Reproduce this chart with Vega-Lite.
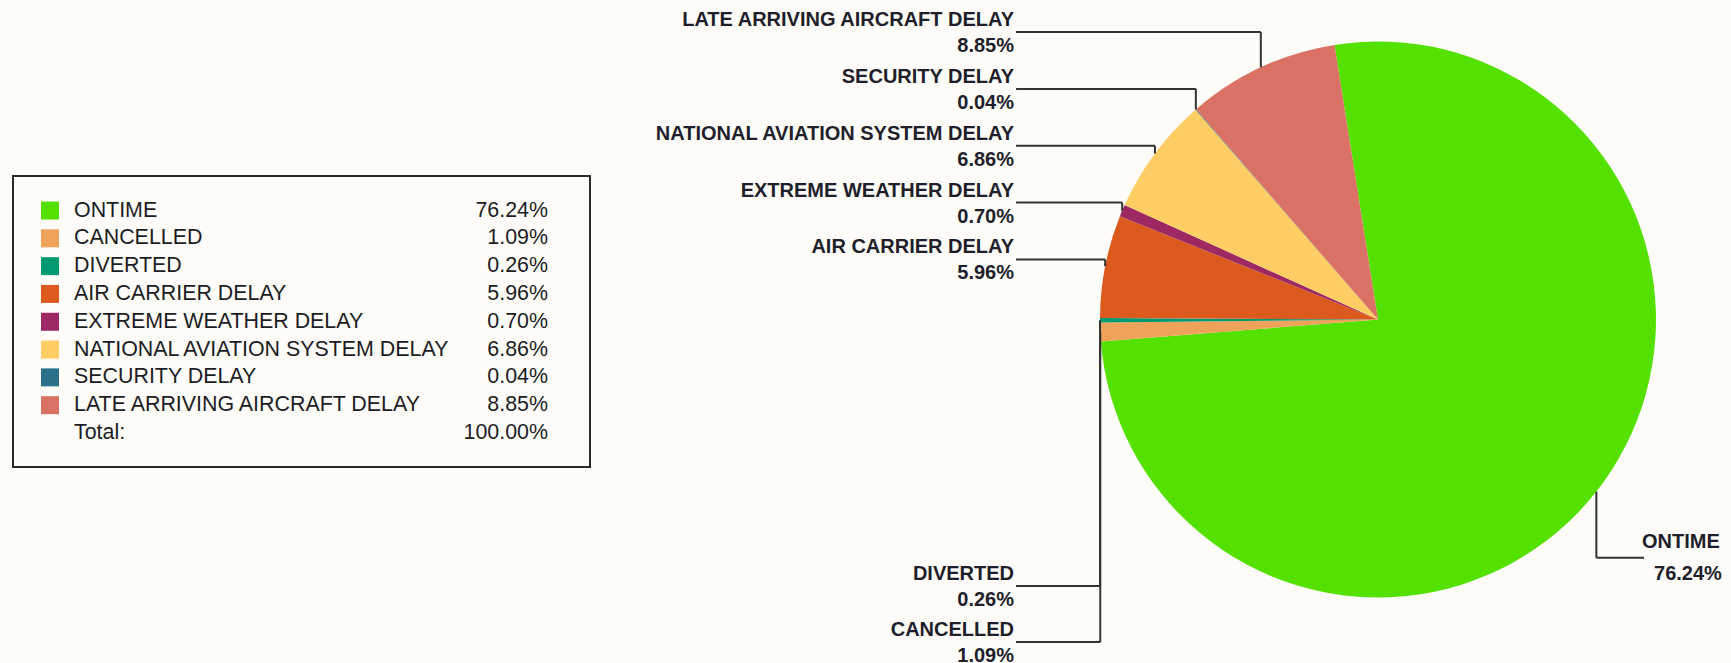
{
  "$schema": "https://vega.github.io/schema/vega-lite/v6.json",
  "background": "#fdfcf8",
  "padding": {"left": 12, "top": 0, "right": 0, "bottom": 0},
  "spacing": 0,
  "datasets": {
    "slices": [
      {"category": "ONTIME", "pct": 76.24, "order": 1},
      {"category": "CANCELLED", "pct": 1.09, "order": 2},
      {"category": "DIVERTED", "pct": 0.26, "order": 3},
      {"category": "AIR CARRIER DELAY", "pct": 5.96, "order": 4},
      {"category": "EXTREME WEATHER DELAY", "pct": 0.70, "order": 5},
      {"category": "NATIONAL AVIATION SYSTEM DELAY", "pct": 6.86, "order": 6},
      {"category": "SECURITY DELAY", "pct": 0.04, "order": 7},
      {"category": "LATE ARRIVING AIRCRAFT DELAY", "pct": 8.85, "order": 8}
    ]
  },
  "hconcat": [
    {
      "spacing": 0,
      "vconcat": [
        {"width": 577, "height": 175, "data": {"values": []}, "mark": "point"},
        {
          "width": 577,
          "height": 291,
          "view": {"stroke": "#2a2a2a", "strokeWidth": 2},
          "data": {"name": "slices"},
          "transform": [{"calculate": "format(datum.pct, '.2f') + '%'", "as": "pctLabel"}],
          "encoding": {
            "y": {
              "field": "category",
              "type": "nominal",
              "scale": {
                "type": "point",
                "domain": ["ONTIME", "CANCELLED", "DIVERTED", "AIR CARRIER DELAY", "EXTREME WEATHER DELAY", "NATIONAL AVIATION SYSTEM DELAY", "SECURITY DELAY", "LATE ARRIVING AIRCRAFT DELAY", "Total:"],
                "range": [34.5, 257],
                "padding": 0
              }
            }
          },
          "layer": [
            {
              "mark": {"type": "square", "size": 324, "filled": true, "opacity": 1},
              "encoding": {
                "x": {"datum": 37, "type": "quantitative", "scale": {"domain": [0, 577], "nice": false, "zero": false}},
                "color": {
                  "field": "category",
                  "type": "nominal",
                  "scale": {
                    "domain": ["ONTIME", "CANCELLED", "DIVERTED", "AIR CARRIER DELAY", "EXTREME WEATHER DELAY", "NATIONAL AVIATION SYSTEM DELAY", "SECURITY DELAY", "LATE ARRIVING AIRCRAFT DELAY"],
                    "range": ["#55e100", "#efa25a", "#009a73", "#dd5a1f", "#9d2862", "#fece64", "#2b7189", "#d97264"]
                  }
                }
              }
            },
            {
              "mark": {"type": "text", "align": "left", "baseline": "middle", "font": "Liberation Sans", "fontSize": 21.4, "color": "#1c1c24"},
              "encoding": {
                "x": {"datum": 61, "type": "quantitative"},
                "text": {"field": "category"}
              }
            },
            {
              "mark": {"type": "text", "align": "right", "baseline": "middle", "font": "Liberation Sans", "fontSize": 21.4, "color": "#1c1c24"},
              "encoding": {
                "x": {"datum": 535, "type": "quantitative"},
                "text": {"field": "pctLabel"}
              }
            },
            {
              "transform": [
                {"aggregate": [{"op": "sum", "field": "pct", "as": "total"}]},
                {"calculate": "format(datum.total, '.2f') + '%'", "as": "totalLabel"}
              ],
              "layer": [
                {
                  "mark": {"type": "text", "align": "left", "baseline": "middle", "font": "Liberation Sans", "fontSize": 21.4, "color": "#1c1c24", "text": "Total:"},
                  "encoding": {
                    "x": {"datum": 61, "type": "quantitative"},
                    "y": {"datum": "Total:", "type": "nominal"}
                  }
                },
                {
                  "mark": {"type": "text", "align": "right", "baseline": "middle", "font": "Liberation Sans", "fontSize": 21.4, "color": "#1c1c24"},
                  "encoding": {
                    "x": {"datum": 535, "type": "quantitative"},
                    "y": {"datum": "Total:", "type": "nominal"},
                    "text": {"field": "totalLabel"}
                  }
                }
              ]
            }
          ]
        }
      ]
    },
    {
      "width": 1142,
      "height": 663,
      "data": {"name": "slices"},
      "transform": [
        {"window": [{"op": "sum", "field": "pct", "as": "cum"}], "sort": [{"field": "order"}]},
        {"calculate": "-PI/20 + 2*PI*(datum.cum - datum.pct/2)/100", "as": "mid"},
        {"calculate": "sin(datum.mid)", "as": "ex"},
        {"calculate": "cos(datum.mid)", "as": "ey"},
        {"calculate": "datum.category == 'ONTIME' ? 0.957 : -1.302", "as": "lx"},
        {"calculate": "datum.order >= 4 ? 1.034 - 0.2045*(8 - datum.order) : (datum.order >= 2 ? -0.959 - 0.201*(3 - datum.order) : -0.857)", "as": "ly"},
        {"calculate": "format(datum.pct, '.2f') + '%'", "as": "pctLabel"}
      ],
      "layer": [
        {
          "mark": {"type": "arc", "outerRadius": 278},
          "encoding": {
            "x": {"datum": 0, "type": "quantitative", "scale": {"domain": [-2.8309, 1.277], "nice": false, "zero": false}},
            "y": {"datum": 0, "type": "quantitative", "scale": {"domain": [-1.2356, 1.1493], "nice": false, "zero": false}},
            "theta": {"field": "pct", "type": "quantitative", "stack": true, "scale": {"range": [-0.15708, 6.12611]}},
            "order": {"field": "order"},
            "color": {
              "field": "category",
              "type": "nominal",
              "scale": {
                "domain": ["ONTIME", "CANCELLED", "DIVERTED", "AIR CARRIER DELAY", "EXTREME WEATHER DELAY", "NATIONAL AVIATION SYSTEM DELAY", "SECURITY DELAY", "LATE ARRIVING AIRCRAFT DELAY"],
                "range": ["#55e100", "#efa25a", "#009a73", "#dd5a1f", "#9d2862", "#fece64", "#2b7189", "#d97264"]
              }
            }
          }
        },
        {
          "mark": {"type": "rule", "color": "#333333", "strokeWidth": 2},
          "encoding": {
            "x": {"field": "lx", "type": "quantitative"},
            "x2": {"field": "ex"},
            "y": {"field": "ly", "type": "quantitative"}
          }
        },
        {
          "mark": {"type": "rule", "color": "#333333", "strokeWidth": 2},
          "encoding": {
            "x": {"field": "ex", "type": "quantitative"},
            "y": {"field": "ly", "type": "quantitative"},
            "y2": {"field": "ey"}
          }
        },
        {
          "transform": [{"filter": "datum.category != 'ONTIME'"}],
          "mark": {"type": "text", "align": "right", "baseline": "alphabetic", "dx": -2, "dy": -6, "font": "Liberation Sans", "fontWeight": "bold", "fontSize": 20, "color": "#1f1f2b"},
          "encoding": {
            "x": {"field": "lx", "type": "quantitative"},
            "y": {"field": "ly", "type": "quantitative"},
            "text": {"field": "category"}
          }
        },
        {
          "transform": [{"filter": "datum.category != 'ONTIME'"}],
          "mark": {"type": "text", "align": "right", "baseline": "alphabetic", "dx": -2, "dy": 20, "font": "Liberation Sans", "fontWeight": "bold", "fontSize": 20, "color": "#1f1f2b"},
          "encoding": {
            "x": {"field": "lx", "type": "quantitative"},
            "y": {"field": "ly", "type": "quantitative"},
            "text": {"field": "pctLabel"}
          }
        },
        {
          "transform": [{"filter": "datum.category == 'ONTIME'"}],
          "mark": {"type": "text", "align": "left", "baseline": "alphabetic", "dx": -2, "dy": -10, "font": "Liberation Sans", "fontWeight": "bold", "fontSize": 20, "color": "#1f1f2b"},
          "encoding": {
            "x": {"field": "lx", "type": "quantitative"},
            "y": {"field": "ly", "type": "quantitative"},
            "text": {"field": "category"}
          }
        },
        {
          "transform": [{"filter": "datum.category == 'ONTIME'"}],
          "mark": {"type": "text", "align": "left", "baseline": "alphabetic", "dx": 10, "dy": 22, "font": "Liberation Sans", "fontWeight": "bold", "fontSize": 20, "color": "#1f1f2b"},
          "encoding": {
            "x": {"field": "lx", "type": "quantitative"},
            "y": {"field": "ly", "type": "quantitative"},
            "text": {"field": "pctLabel"}
          }
        }
      ]
    }
  ],
  "config": {
    "view": {"stroke": null},
    "axis": {"disable": true},
    "legend": {"disable": true}
  }
}
